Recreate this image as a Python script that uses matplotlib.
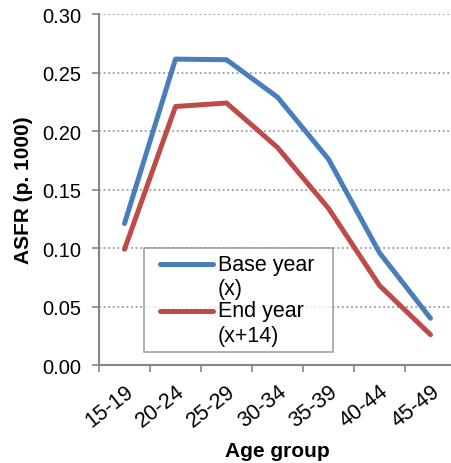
import matplotlib
matplotlib.use('Agg')
import matplotlib.pyplot as plt
from matplotlib.legend_handler import HandlerLine2D

# Datos
grupos = ['15-19', '20-24', '25-29', '30-34', '35-39', '40-44', '45-49']
base_year = [0.121, 0.2615, 0.261, 0.229, 0.176, 0.096, 0.040]
end_year = [0.099, 0.221, 0.224, 0.186, 0.134, 0.068, 0.026]

plt.rcParams['font.family'] = ['Liberation Sans', 'DejaVu Sans']


# La línea de la leyenda va a la altura de la primera línea del texto
class HandlerArriba(HandlerLine2D):
    def create_artists(self, legend, orig_handle, xdescent, ydescent,
                       width, height, fontsize, trans):
        artists = super().create_artists(legend, orig_handle, xdescent,
                                         ydescent, width, height, fontsize,
                                         trans)
        for a in artists:
            a.set_xdata([0.44 * fontsize, 2.9 * fontsize])
            a.set_ydata([v + 0.6 * fontsize for v in a.get_ydata()][:2])
        return artists


fig = plt.figure(figsize=(4.51, 4.64), dpi=100)
ax = fig.add_axes([0.2195, 0.211, 0.7916, 0.7565])

x = range(len(grupos))
ax.plot(x, base_year, color='#4A7EBB', lw=3.6, solid_capstyle='round',
        label='Base year  \n(x)')
ax.plot(x, end_year, color='#BE4B48', lw=3.6, solid_capstyle='round',
        label='End year\n(x+14)')

ax.set_xlim(-0.5, 6.5)
ax.set_ylim(0, 0.30)
ax.set_yticks([0, 0.05, 0.10, 0.15, 0.20, 0.25, 0.30])
ax.set_yticklabels([f'{v:.2f}' for v in ax.get_yticks()], fontsize=14.5)

# ticks del eje x en los bordes de cada categoría
ax.set_xticks([i - 0.5 for i in range(len(grupos) + 1)])
ax.set_xticklabels([])
ax.set_xticks(list(x), minor=True)
ax.set_xticklabels(grupos, minor=True, rotation=38, ha='right',
                   rotation_mode='anchor', fontsize=15.5)
ax.tick_params(axis='x', which='minor', length=0, pad=11)
ax.tick_params(axis='x', which='major', length=5, color='#868686', width=1.2)
ax.tick_params(axis='y', length=5, color='#868686', width=1.2, pad=8)

ax.grid(axis='y', linestyle=(0, (1.2, 1.8)), color='#8c8c8c', lw=1.1)
for s in ['top', 'right']:
    ax.spines[s].set_visible(False)
for s in ['left', 'bottom']:
    ax.spines[s].set_color('#868686')
    ax.spines[s].set_linewidth(1.5)

ax.set_xlabel('Age group', fontsize=15, fontweight='bold', labelpad=7)
ax.set_ylabel('ASFR (p. 1000)', fontsize=15, fontweight='bold', labelpad=6)

leg = ax.legend(loc='lower left', bbox_to_anchor=(0.126, 0.037),
                borderaxespad=0, fontsize=15.5, fancybox=False,
                handlelength=3.0, handletextpad=0.14, labelspacing=0.05,
                borderpad=0.3,
                handler_map={matplotlib.lines.Line2D: HandlerArriba()})
leg.get_frame().set_edgecolor('#8c8c8c')
leg.get_frame().set_linewidth(1.2)

fig.savefig('out.png', dpi=100)
